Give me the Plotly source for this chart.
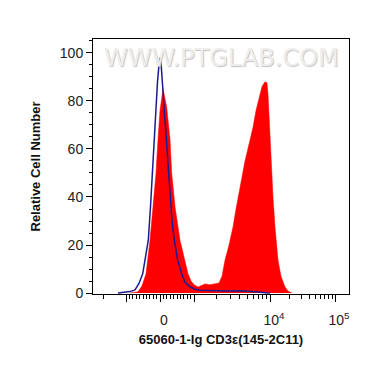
import math
import plotly.graph_objects as go

# Display-scale positions (biexponential axis, display units) and relative counts
sample_x = [37, 45, 49, 53, 57, 60, 63, 65, 67, 69, 70, 71.5, 73.7, 77, 78.7, 82, 87, 91, 95, 98, 101,
            105, 108, 112, 117, 122, 126, 129, 132, 136, 140, 143, 146, 149, 152, 156, 160, 163,
            165, 167, 169, 172, 174, 175, 176.5, 178, 180, 182, 185, 188, 192, 195, 199]
sample_y = [0, 0.5, 3, 8, 22, 36, 50, 64, 76, 82, 85, 82, 77.5, 64, 50, 36, 22, 15, 8, 5, 3.5,
            2.5, 3.2, 3.8, 3.5, 3.8, 4.2, 7, 13.7, 20, 27.5, 35, 41.6, 48, 55, 62, 69, 76,
            79, 83, 86, 88, 87.5, 83, 70, 55, 40, 27.5, 13.7, 7, 2.5, 0.8, 0]

isotype_x = [25, 32, 37, 42, 46, 49.7, 52.5, 55.3, 57.5, 59.3, 61, 62.7, 64.5, 66, 67, 68, 69.5, 71.3,
             73.3, 75.3, 77, 79, 81.3, 84.5, 88.7, 92, 97, 102, 107, 117, 127, 137, 147, 157, 165, 172, 177]
isotype_y = [0, 0.3, 0.6, 1.3, 4, 8, 15, 22, 36, 50, 64, 77.5, 88, 95, 98, 96, 87, 77.5,
             64, 50, 40, 30, 22, 14, 8, 4.5, 2.6, 1.6, 1.2, 1.0, 0.8, 0.9, 1.0, 0.8, 0.4, 0.1, 0]

x_label_values = [0, 10000, 100000]
x_label_texts = ["0", "10<sup>4</sup>", "10<sup>5</sup>"]
x_unlabeled_major = [-1000, 1000]
y_ticks = [0, 20, 40, 60, 80, 100]


def to_display(v):
    """Approximate biexponential display transform."""
    if abs(v) <= 1000:
        return 67 + v * 34 / 1000
    if v > 10000:
        return 177 + 65 * math.log10(v / 10000)
    if v > 1000:
        return 101 + 76 * math.log10(v / 1000)
    return 33 - 76 * math.log10(-v / 1000)


minor_vals = []
for k in range(-9, 10):
    if k != 0:
        minor_vals.append(k * 100)
for d in (1000, 10000):
    for m in range(2, 10):
        minor_vals.append(m * d)
for m in (2, 3):
    minor_vals.append(-m * 1000)
minor_pos = [to_display(v) for v in minor_vals]
minor_pos = [p for p in minor_pos if 0 <= p <= 256]

fig = go.Figure()
fig.add_trace(go.Scatter(x=sample_x, y=sample_y, mode="lines", fill="tozeroy",
                         fillcolor="#ff0000", line=dict(color="#ff0000", width=0.5),
                         hoverinfo="skip"))
fig.add_trace(go.Scatter(x=isotype_x, y=isotype_y, mode="lines",
                         line=dict(color="#1c1c90", width=1.5), hoverinfo="skip"))
# invisible trace to anchor the secondary tick axis
fig.add_trace(go.Scatter(x=[], y=[], xaxis="x2", showlegend=False, hoverinfo="skip"))

fig.add_annotation(x=0.5, y=0.99, xref="paper", yref="paper", text="WWW.PTGLAB.COM",
                   showarrow=False, xanchor="center", yanchor="top",
                   font=dict(family="DejaVu Sans", size=24, color="#eeeeee",
                             shadow="1px 1px 1px #c4c4c4"))

# margins compensate for the 8px default page margin of the html body
fig.update_layout(
    width=370, height=367,
    margin=dict(l=85, r=29, t=31, b=81, autoexpand=False),
    paper_bgcolor="white", plot_bgcolor="white",
    showlegend=False,
    font=dict(family="Liberation Sans, Arial", color="#222222"),
    xaxis=dict(
        range=[0, 256], showgrid=False, zeroline=False, automargin=False,
        showline=True, linecolor="black", linewidth=1, mirror=True,
        tickmode="array", tickvals=[to_display(v) for v in x_label_values],
        ticktext=x_label_texts, ticks="outside", ticklen=7, tickcolor="black",
        tickfont=dict(size=14, color="#222222"), ticklabelstandoff=6, ticklabelshift=4,
        minor=dict(tickmode="array", tickvals=minor_pos, ticks="outside",
                   ticklen=4, tickcolor="black"),
        title=dict(text="<b>65060-1-Ig CD3ε(145-2C11)</b>", font=dict(size=13, color="#111111"),
                   standoff=8),
    ),
    xaxis2=dict(
        range=[0, 256], overlaying="x", side="bottom", showgrid=False, zeroline=False,
        automargin=False, showline=False, tickmode="array",
        tickvals=[to_display(v) for v in x_unlabeled_major], ticks="outside", ticklen=7,
        tickcolor="black", showticklabels=False,
    ),
    yaxis=dict(
        range=[-0.4, 105.8], showgrid=False, zeroline=False, automargin=False,
        showline=True, linecolor="black", linewidth=1, mirror=True,
        tickmode="array", tickvals=y_ticks, ticks="outside", ticklen=6, tickcolor="black",
        tickfont=dict(size=14, color="#222222"),
        minor=dict(dtick=5, ticks="outside", ticklen=3, tickcolor="black"),
        title=dict(text="<b>Relative Cell Number</b>", font=dict(size=13, color="#111111"),
                   standoff=16),
    ),
)

fig.write_html("out.html")
